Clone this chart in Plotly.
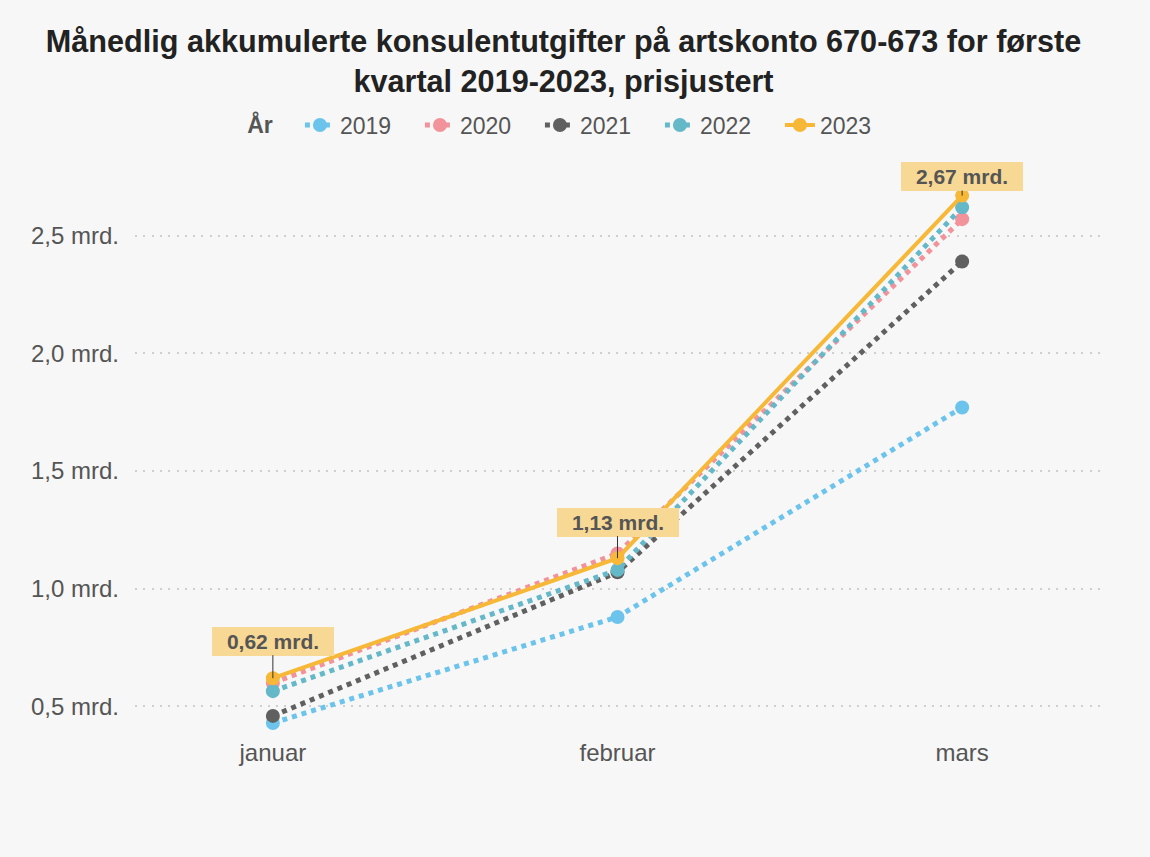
import plotly.graph_objects as go

months = ["januar", "februar", "mars"]
years = ["2019", "2020", "2021", "2022", "2023"]
v2019 = [0.43, 0.88, 1.77]
v2020 = [0.60, 1.15, 2.57]
v2021 = [0.46, 1.07, 2.39]
v2022 = [0.565, 1.08, 2.62]
v2023 = [0.62, 1.13, 2.67]
series = [v2019, v2020, v2021, v2022, v2023]
colors = ["#6cc4ec", "#f2929b", "#606060", "#64b8c8", "#f6b836"]
dashes = ["dot", "dot", "dot", "dot", "solid"]
labels_2023 = ["0,62 mrd.", "1,13 mrd.", "2,67 mrd."]
label_offsets = [-37, -36, -19]
tick_vals = [0.5, 1.0, 1.5, 2.0, 2.5]
tick_text = ["0,5 mrd.", "1,0 mrd.", "1,5 mrd.", "2,0 mrd.", "2,5 mrd."]

FONT = "Arial, Liberation Sans, sans-serif"

fig = go.Figure()
for name, vals, col, dash in zip(years, series, colors, dashes):
    fig.add_trace(go.Scatter(
        x=months, y=vals, name=name, mode="lines+markers",
        line=dict(color=col, width=5 if dash == "dot" else 4, dash=dash),
        marker=dict(color=col, size=14),
    ))

for m, v, t, ay in zip(months, v2023, labels_2023, label_offsets):
    fig.add_annotation(
        x=m, y=v, text="<b>" + t + "</b>", showarrow=True, arrowhead=0,
        arrowwidth=1, arrowcolor="#333", ax=0, ay=ay,
        bgcolor="#f7d894", bordercolor="#f7d894", borderpad=0,
        width=120, height=27,
        font=dict(family=FONT, size=21, color="#555555"),
    )

fig.update_layout(
    width=1150, height=857,
    paper_bgcolor="#f7f7f7", plot_bgcolor="#f7f7f7",
    margin=dict(l=135, r=50, t=165, b=127),
    font=dict(family=FONT, color="#555555"),
    title=dict(
        text="<b>Månedlig akkumulerte konsulentutgifter på artskonto 670-673 for første<br>kvartal 2019-2023, prisjustert</b>",
        x=0.49, xanchor="center", xref="container",
        y=1 - 52 / 857, yanchor="middle", yref="container",
        font=dict(family=FONT, size=30.6, color="#222222"),
    ),
    legend=dict(
        orientation="h", x=0.498, xanchor="center", xref="container",
        y=1 - 125 / 857, yanchor="middle", yref="container",
        title=dict(text="<b>År</b>&nbsp;&nbsp;&nbsp;", font=dict(size=23, color="#555555")),
        font=dict(size=23, color="#555555"),
        bgcolor="rgba(0,0,0,0)",
        entrywidth=75,
    ),
    xaxis=dict(
        range=[-0.4, 2.4], showgrid=False, zeroline=False, showline=False,
        tickfont=dict(size=24, color="#555555"), ticks="", ticklabelstandoff=6,
    ),
    yaxis=dict(
        range=[0.4, 2.8], tickvals=tick_vals, ticktext=tick_text,
        showgrid=True, gridcolor="#cfcfcf", griddash="2px,6.3px", gridwidth=2,
        zeroline=False, showline=False, ticks="",
        tickfont=dict(size=24, color="#555555"), ticklabelstandoff=15,
    ),
    showlegend=True,
)

fig.write_html("out.html")
